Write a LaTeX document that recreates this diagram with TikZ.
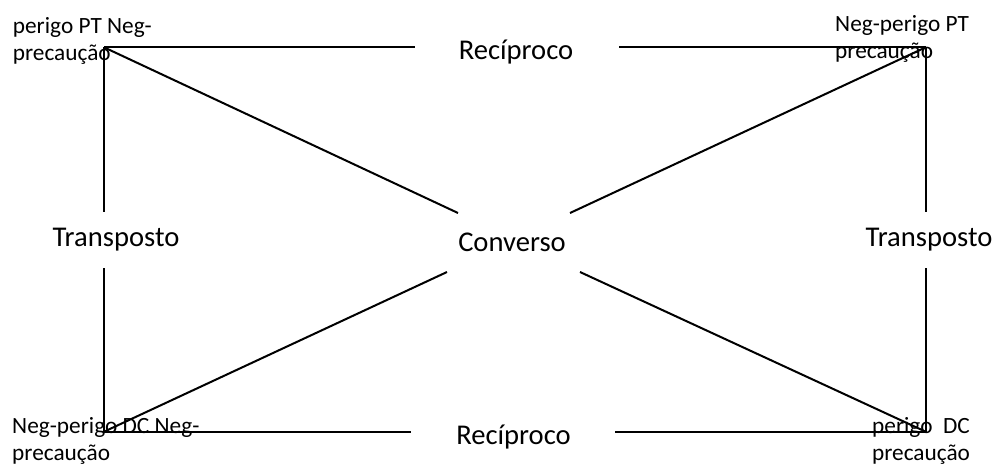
\documentclass[tikz,border=0pt]{standalone}
\usepackage{fontspec}
\setmainfont{Carlito}
\begin{document}
\begin{tikzpicture}[x=1pt,y=-1pt,
  edge/.style={line width=2pt,black},
  big/.style={inner sep=0pt,font=\fontsize{28.6}{34}\selectfont},
  corner/.style={inner sep=0pt,font=\fontsize{23.3}{26.7}\selectfont},
]
\useasboundingbox (0,0) rectangle (998,466);
% corners
\coordinate (tl) at (104,47.3);
\coordinate (tr) at (925.7,47.3);
\coordinate (bl) at (104,431.7);
\coordinate (br) at (925.7,431.7);
% gap ends
\coordinate (tgl) at (415,47.3);
\coordinate (tgr) at (619,47.3);
\coordinate (bgl) at (411,431.7);
\coordinate (bgr) at (615,431.7);
\coordinate (lgt) at (104,212);
\coordinate (lgb) at (104,268);
\coordinate (rgt) at (925.7,212);
\coordinate (rgb) at (925.7,268);
\coordinate (ctl) at (458,213);
\coordinate (ctr) at (570,213);
\coordinate (cbl) at (447,272);
\coordinate (cbr) at (580,272);
% text nodes
\node[big,anchor=base] (rectop) at (516,59.3) {Recíproco};
\node[big,anchor=base] (recbot) at (513.5,444) {Recíproco};
\node[big,anchor=base] (transl) at (116,246.7) {Transposto};
\node[big,anchor=base] (transr) at (929,246.7) {Transposto};
\node[big,anchor=base] (conv) at (512,251) {Converso};
% lines
\draw[edge] (tl) -- (tgl);
\draw[edge] (tgr) -- (tr);
\draw[edge] (bl) -- (bgl);
\draw[edge] (bgr) -- (br);
\draw[edge] (tl) -- (lgt);
\draw[edge] (lgb) -- (bl);
\draw[edge] (tr) -- (rgt);
\draw[edge] (rgb) -- (br);
\draw[edge] (tl) -- (ctl);
\draw[edge] (ctr) -- (tr);
\draw[edge] (bl) -- (cbl);
\draw[edge] (cbr) -- (br);
% corner labels
\node[corner,align=left,anchor=base west] (ltl) at (12.7,60) {perigo PT Neg-\\precaução};
\node[corner,align=left,anchor=base west] (ltr) at (835,58) {Neg-perigo PT\\precaução};
\node[corner,align=left,anchor=base west] (lbl) at (12,460) {Neg-perigo DC Neg-\\precaução};
\node[corner,align=center,anchor=base] (lbr) at (921,460) {perigo\ \ DC\\precaução};
\end{tikzpicture}
\end{document}
